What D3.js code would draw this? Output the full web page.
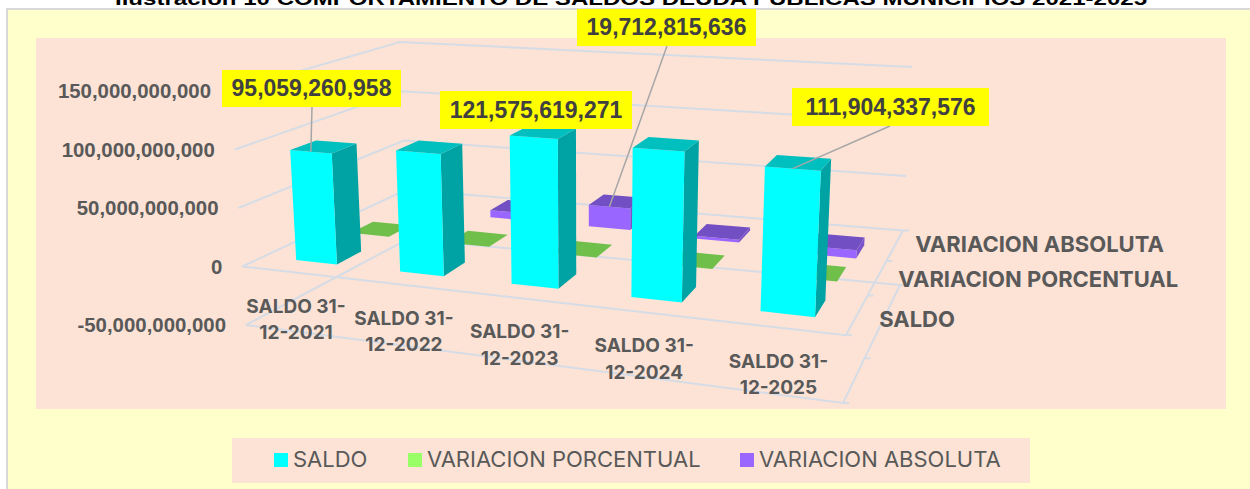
<!DOCTYPE html>
<html>
<head>
<meta charset="utf-8">
<script src="https://cdn.jsdelivr.net/npm/d3@7"></script>
<style>
  html, body { margin: 0; padding: 0; background: #fff; overflow: hidden; }
  svg { display: block; }
</style>
</head>
<body>
<div class="graphic"></div>
<script>
// values
var categories = ["SALDO 31-12-2021", "SALDO 31-12-2022", "SALDO 31-12-2023", "SALDO 31-12-2024", "SALDO 31-12-2025"];
var categoryLines = [["SALDO 31-", "12-2021"], ["SALDO 31-", "12-2022"], ["SALDO 31-", "12-2023"], ["SALDO 31-", "12-2024"], ["SALDO 31-", "12-2025"]];
var seriesNames = ["SALDO", "VARIACION PORCENTUAL", "VARIACION ABSOLUTA"];
var saldo = [95059260958, 101862803635, 121575619271, 119000000000, 111904337576];
var variacionPorcentual = [0, 0.07, 0.19, -0.02, -0.06];
var variacionAbsoluta = [null, 6803542677, 19712815636, -2600000000, -7100000000];
var yTicks = [-50000000000, 0, 50000000000, 100000000000, 150000000000];

var svg_width = 1250, svg_height = 489;

var svg = d3.select(".graphic")
  .append("svg")
  .attr("width", svg_width)
  .attr("height", svg_height);

// 3d box of the chart: corners on screen, [front/back][left/right][bottom/top]
var box = {
  fl: [[246, 325], [231, 91]],
  fr: [[843, 403], [855, 132]],
  bl: [[408, 239], [400, 42]],
  br: [[900, 285], [912, 67]]
};

var xScale = d3.scaleBand().domain(categories).range([0.005, 1.005]).paddingInner(0.6).paddingOuter(0.3);
var zScale = d3.scaleBand().domain(seriesNames).range([0, 1]).paddingInner(0.55).paddingOuter(0.35);
var yScale = d3.scaleLinear().domain([-50000000000, 150000000000]).range([0, 1]);

function warp(t, r) { return t / (t + r * (1 - t)); }
function mix(a, b, t) { return [a[0] + (b[0] - a[0]) * t, a[1] + (b[1] - a[1]) * t]; }

// u along categories, w along depth, t along values, all 0..1
function project(u, w, t) {
  var uu = warp(u, 1.2), ww = warp(w, 0.82);
  var f = mix(mix(box.fl[0], box.fr[0], uu), mix(box.fl[1], box.fr[1], uu), t);
  var b = mix(mix(box.bl[0], box.br[0], uu), mix(box.bl[1], box.br[1], uu), t);
  return mix(f, b, ww);
}

var line = d3.line();
// d3 writes a real minus sign, the chart uses a plain hyphen
function money(v) { return d3.format(",")(v).replace("\u2212", "-"); }

// background
svg.append("rect").attr("x", 7).attr("y", 9).attr("width", 1250).attr("height", 490)
  .attr("fill", "#ffffcc").attr("stroke", "#d9d9d9").attr("stroke-width", 2);
svg.append("rect").attr("x", 36).attr("y", 38).attr("width", 1190).attr("height", 371).attr("fill", "#fce3d6");
svg.append("rect").attr("x", 232).attr("y", 438).attr("width", 798).attr("height", 45).attr("fill", "#fce3d6");

svg.append("text").attr("class", "title")
  .attr("x", 631).attr("y", 5)
  .attr("text-anchor", "middle")
  .attr("font-family", "Liberation Sans").attr("font-weight", "bold").attr("font-size", 19)
  .attr("textLength", 1032).attr("lengthAdjust", "spacingAndGlyphs")
  .attr("fill", "#000")
  .text("Ilustración 10 COMPORTAMIENTO DE SALDOS DEUDA PUBLICAS MUNICIPIOS 2021-2025");

// gridlines on the left and back walls
var grid = svg.append("g").attr("fill", "none").attr("stroke", "#d6dce5").attr("stroke-width", 2);
yTicks.forEach(function(v) {
  var t = yScale(v);
  grid.append("path").attr("d", line([project(0, 0, t), project(0, 1, t), project(1, 1, t)]));
});
// floor edges, at the bottom and at the zero plane
[yTicks[0], 0].forEach(function(v) {
  var t = yScale(v);
  grid.append("path").attr("d", line([project(0, 0, t), project(1, 0, t), project(1, 1, t)]));
  [0, 1 / 3, 2 / 3, 1].forEach(function(w) {
    var p = project(1, w, t);
    grid.append("path").attr("d", line([p, [p[0] + 6, p[1]]]));
  });
});

var palette = {
  "SALDO": { front: "#00ffff", top: "#00bfbf", side: "#00a3a3" },
  "VARIACION PORCENTUAL": { front: "#99ff66", top: "#70bf4b", side: "#5fa33f" },
  "VARIACION ABSOLUTA": { front: "#9966ff", top: "#734fc4", side: "#7a52cc" }
};
var legendColors = ["#00ffff", "#99ff66", "#9966ff"];
var seriesValues = [saldo, variacionPorcentual, variacionAbsoluta];

// back row first so the front columns cover it
var rows = d3.range(seriesNames.length).reverse();
var bars = svg.append("g");
rows.forEach(function(s) {
  var name = seriesNames[s];
  var z0 = zScale(name), z1 = z0 + zScale.bandwidth();
  // percent values share the money axis, so they stay flat on the zero plane
  categories.forEach(function(c, i) {
    var v = seriesValues[s][i];
    if (v === null) return;
    var x0 = xScale(c), x1 = x0 + xScale.bandwidth();
    var hi = yScale(Math.max(v, 0)), lo = yScale(Math.min(v, 0));
    var faces = [
      { fill: palette[name].side, pts: [project(x1, z0, lo), project(x1, z1, lo), project(x1, z1, hi), project(x1, z0, hi)] },
      { fill: palette[name].front, pts: [project(x0, z0, lo), project(x1, z0, lo), project(x1, z0, hi), project(x0, z0, hi)] },
      { fill: palette[name].top, pts: [project(x0, z0, hi), project(x1, z0, hi), project(x1, z1, hi), project(x0, z1, hi)] }
    ];
    bars.selectAll(null).data(faces).enter().append("path")
      .attr("d", function(d) { return line(d.pts) + "Z"; })
      .attr("fill", function(d) { return d.fill; });
  });
});

// value axis labels
svg.append("g").selectAll("text").data(yTicks).enter().append("text")
  .attr("x", function(d) { return project(0, 0, yScale(d))[0] - 20; })
  .attr("y", function(d) { return project(0, 0, yScale(d))[1] + 7; })
  .attr("text-anchor", "end")
  .attr("font-family", "Liberation Sans").attr("font-weight", "bold").attr("font-size", 20.4)
  .attr("fill", "#595959")
  .text(money);

// category labels, two lines under the zero plane
var catLabels = svg.append("g").selectAll("text").data(categories).enter().append("text")
  .attr("text-anchor", "middle")
  .attr("font-family", "Inter").attr("font-weight", 700).attr("font-size", 19)
  .attr("fill", "#595959");
catLabels.each(function(c, i) {
  var p = project(xScale(c) + xScale.bandwidth() / 2, 0, yScale(0));
  d3.select(this).selectAll("tspan").data(categoryLines[i]).enter().append("tspan")
    .attr("x", p[0])
    .attr("y", function(d, j) { return p[1] + 40 + j * 26.5; })
    .text(function(d) { return d; });
});

// series labels at the right of the depth axis
svg.append("g").selectAll("text").data(seriesNames).enter().append("text")
  .attr("x", function(d) { return project(1, zScale(d) + zScale.bandwidth() / 2, 0)[0] + 24; })
  .attr("y", function(d) { return project(1, zScale(d) + zScale.bandwidth() / 2, 0)[1] - 51; })
  .attr("font-family", "Inter").attr("font-weight", 700).attr("font-size", 22)
  .attr("fill", "#595959")
  .text(function(d) { return d; });

// yellow data labels with leader lines
var callouts = [
  { series: 0, cat: 0, box: [222, 70, 179, 37], from: [312, 107] },
  { series: 0, cat: 2, box: [440, 91, 192, 38], from: null },
  { series: 2, cat: 2, box: [577, 9, 179, 37], from: [667, 46] },
  { series: 0, cat: 4, box: [792, 88, 197, 38], from: [890, 126] }
];
var callG = svg.append("g");
callouts.forEach(function(d) {
  var name = seriesNames[d.series], c = categories[d.cat], v = seriesValues[d.series][d.cat];
  if (d.from) {
    var end = project(xScale(c) + xScale.bandwidth() / 2, zScale(name), yScale(v));
    callG.append("path").attr("d", line([d.from, end])).attr("stroke", "#a6a6a6").attr("stroke-width", 1.5).attr("fill", "none");
  }
  callG.append("rect").attr("x", d.box[0]).attr("y", d.box[1]).attr("width", d.box[2]).attr("height", d.box[3]).attr("fill", "#ffff00");
  callG.append("text")
    .attr("x", d.box[0] + d.box[2] / 2).attr("y", d.box[1] + d.box[3] / 2 + 7.5)
    .attr("text-anchor", "middle")
    .attr("font-family", "Liberation Sans").attr("font-weight", "bold").attr("font-size", 23)
    .attr("fill", "#404040")
    .text(money(v));
});

// legend
var legendX = [274, 408, 740];
var legend = svg.append("g").selectAll("g").data(seriesNames).enter().append("g")
  .attr("transform", function(d, i) { return "translate(" + legendX[i] + ",453)"; });
legend.append("rect").attr("width", 14).attr("height", 14)
  .attr("fill", function(d, i) { return legendColors[i]; });
legend.append("text").attr("x", 19).attr("y", 14)
  .attr("font-family", "Inter").attr("font-size", 22)
  .attr("fill", "#595959")
  .text(function(d) { return d; });
</script>
</body>
</html>
